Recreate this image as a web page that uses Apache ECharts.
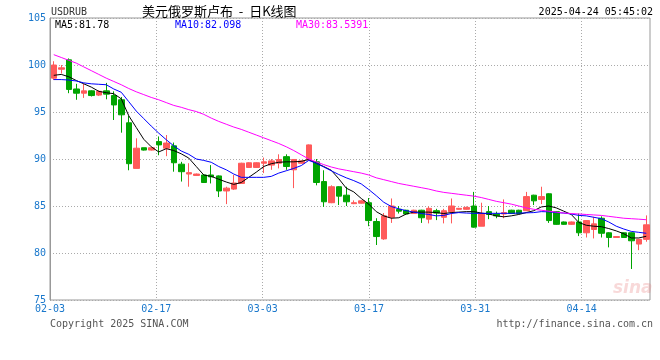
<!DOCTYPE html>
<html><head><meta charset="utf-8">
<script src="https://cdn.jsdelivr.net/npm/echarts/dist/echarts.min.js"></script>
<style>html,body{margin:0;padding:0;background:#fff}#c{width:660px;height:360px}</style>
</head><body><div id="c"></div>
<script>
const dates = ['02-03','02-04','02-05','02-06','02-07','02-08','02-09','02-10','02-11','02-12','02-13','02-14','02-15','02-16','02-17','02-18','02-19','02-20','02-21','02-22','02-23','02-24','02-25','02-26','02-27','02-28',
'03-01','03-02','03-03','03-04','03-05','03-06','03-07','03-08','03-09','03-10','03-11','03-12','03-13','03-14','03-15','03-16','03-17','03-18','03-19','03-20','03-21','03-22','03-23','03-24','03-25','03-26','03-27','03-28','03-29','03-30','03-31',
'04-01','04-02','04-03','04-04','04-05','04-06','04-07','04-08','04-09','04-10','04-11','04-12','04-13','04-14','04-15','04-16','04-17','04-18','04-19','04-20','04-21','04-22','04-23'];
const open = [98.6,99.55,100.55,97.45,97.0,97.25,96.8,97.25,96.75,96.3, 93.85,89.0,91.2,90.95,91.85,91.15,91.4,89.45,88.4,88.25, 88.3,88.3,88.2,86.6,86.8,87.4,89.1,89.1,89.55,89.35, 89.55,90.25,88.85,89.55,89.9,89.7,87.6,85.35,87.05,86.15, 85.25,85.3,85.35,83.35,81.5,83.8,84.65,84.55,84.2,84.55, 83.6,84.5,83.8,84.4,84.65,84.65,85.0,82.85,84.4,84.15, 84.15,84.55,84.55,84.5,86.15,85.7,86.3,84.4,83.3,83.05, 83.3,82.15,82.5,83.7,82.15,81.65,82.15,82.15,80.95,81.45];
const close = [100.0,99.7,97.4,97.0,97.25,96.75,97.2,96.9,95.75,94.7, 89.5,91.15,90.95,91.2,91.5,91.7,89.6,88.65,88.55,88.4, 87.5,88.1,86.6,86.9,87.45,89.55,89.6,89.6,89.7,89.8, 89.95,89.2,89.95,89.8,91.5,87.5,85.45,87.05,86.05,85.45, 85.35,85.55,83.45,81.75,83.95,85.0,84.45,84.15,84.55,83.75, 84.75,84.25,84.5,85.0,84.75,84.85,82.75,84.2,84.1,83.95, 84.3,84.2,84.2,86.0,85.55,86.0,83.45,83.05,83.05,83.3, 82.15,83.45,83.1,82.1,81.65,81.75,81.65,81.3,81.45,83.0];
const low = [98.4,99.1,97.0,96.3,96.5,96.65,96.7,96.35,94.15,92.8, 88.8,89.0,90.9,90.9,90.4,90.3,88.65,87.6,87.05,88.2, 87.45,87.4,85.95,85.2,86.7,87.35,89.05,89.05,88.5,88.85, 89.0,88.85,86.9,89.5,89.85,87.2,84.9,85.3,85.1,85.0, 85.2,85.25,82.85,80.85,81.4,83.2,84.2,84.1,84.15,83.2, 83.15,83.5,83.15,83.15,84.6,84.6,82.7,82.85,83.6,83.7, 83.7,84.15,84.15,84.45,85.1,85.2,83.2,83.0,83.0,83.0, 81.8,81.65,81.55,81.65,80.6,81.6,81.6,78.3,80.3,81.2];
const high = [100.4,100.0,100.7,98.0,98.0,97.3,97.3,98.1,97.2,96.6, 94.6,92.2,91.2,91.25,92.4,92.55,91.75,89.7,89.55,88.45, 88.35,89.35,88.25,87.05,88.3,89.6,89.65,89.65,90.15,90.0, 90.5,90.5,90.0,89.85,91.55,90.0,88.8,87.2,87.1,87.05, 85.6,85.6,85.85,83.7,84.25,85.8,85.0,84.6,84.6,84.6, 84.95,84.7,84.7,85.8,84.8,84.95,86.5,85.35,85.0,84.4, 85.7,84.6,84.6,86.5,86.2,87.05,86.35,84.45,83.35,83.35, 84.2,83.5,83.85,83.9,82.2,81.8,82.2,82.2,81.5,84.0];
const ma5 = [98.9,99.0,98.75,98.35,98.0,97.65,97.2,97.05,96.95,96.4, 94.6,93.35,92.1,91.3,90.75,91.1,90.9,90.55,90.1,89.2, 88.3,88.15,87.85,87.55,87.3,87.5,88.05,88.6,89.2,89.5, 89.65,89.7,89.7,89.75,89.95,89.55,89.2,88.8,87.9,86.9, 86.5,85.8,85.2,84.4,83.95,83.7,83.75,84.15,84.35,84.35, 84.35,84.3,84.2,84.3,84.35,84.4,84.4,84.25,84.15,83.95, 83.85,83.95,84.1,84.3,84.5,84.9,85.0,84.8,84.45,84.1, 83.25,82.95,82.85,82.8,82.6,82.35,82.05,81.6,81.6,81.78];
const ma10 = [98.45,98.45,98.4,98.3,98.1,98.0,97.95,97.9,97.45,97.1, 96.1,95.1,94.3,93.5,92.75,92.05,91.4,90.85,90.5,90.0, 89.85,89.65,89.2,88.85,88.4,88.05,88.05,88.05,88.05,88.15, 88.5,88.75,89.0,89.3,89.85,89.55,89.15,88.75,88.35,88.0, 87.7,87.35,86.75,86.1,85.4,84.95,84.7,84.5,84.35,84.2, 84.1,83.95,84.0,84.2,84.3,84.25,84.22,84.22,84.22,84.22, 84.22,84.22,84.25,84.27,84.3,84.4,84.38,84.3,84.25,84.15, 84.0,83.95,83.8,83.65,83.3,82.85,82.55,82.3,82.2,82.098];
const ma30 = [101.1,100.8,100.5,100.2,99.8,99.4,99.0,98.6,98.25,97.9, 97.5,97.15,96.85,96.55,96.3,96.0,95.7,95.5,95.25,95.05, 94.75,94.35,94.0,93.7,93.4,93.15,92.85,92.55,92.25,91.95, 91.65,91.3,90.9,90.45,90.0,89.7,89.4,89.15,88.95,88.8, 88.65,88.5,88.3,88.0,87.8,87.6,87.4,87.25,87.1,86.95, 86.8,86.6,86.45,86.35,86.25,86.15,86.05,85.9,85.7,85.5, 85.35,85.2,85.0,84.8,84.65,84.55,84.45,84.35,84.25,84.2, 84.15,84.1,84.05,84.0,83.9,83.8,83.7,83.65,83.6,83.54];
const yTicks = {min: 75, max: 105, step: 5};
const maLabels = ['MA5:81.78', 'MA10:82.098', 'MA30:83.5391'];
const titleText = '美元俄罗斯卢布  -  日K线图';
const symbolText = 'USDRUB';
const timeText = '2025-04-24 05:45:02';

const MONO = '"DejaVu Sans Mono", monospace';
const BLUE = '#1a78cc';
const kData = open.map((o, i) => [o, close[i], low[i], high[i]]);

const chart = echarts.init(document.getElementById('c'), null, {renderer: 'canvas'});
chart.setOption({
  animation: false,
  backgroundColor: '#fff',
  grid: {left: 50, right: 10, top: 18, bottom: 60, show: true, borderColor: '#999', borderWidth: 1, backgroundColor: 'transparent'},
  xAxis: [
    {type: 'category', data: dates, boundaryGap: true, show: false},
    {type: 'category', data: dates, boundaryGap: false, position: 'bottom',
     axisLine: {show: false}, axisTick: {show: false},
     axisLabel: {interval: 13, color: BLUE, fontFamily: MONO, fontSize: 10, margin: 4},
     splitLine: {show: true, interval: 13, lineStyle: {color: '#aaa', type: [1, 2], width: 1}}}
  ],
  yAxis: {type: 'value', min: yTicks.min, max: yTicks.max, interval: yTicks.step,
    axisLine: {show: true, lineStyle: {color: '#999'}}, axisTick: {show: false},
    axisLabel: {color: BLUE, fontFamily: MONO, fontSize: 10, margin: 4},
    splitLine: {show: true, lineStyle: {color: '#aaa', type: [1, 2], width: 1}}},
  series: [
    {type: 'candlestick', xAxisIndex: 0, data: kData, barWidth: 6,
     itemStyle: {color: '#ff5a5a', color0: '#00a400', borderColor: '#ff5a5a', borderColor0: '#00a400', borderWidth: 1}},
    {type: 'line', xAxisIndex: 0, data: ma5, showSymbol: false, lineStyle: {color: '#000', width: 1}, z: 3},
    {type: 'line', xAxisIndex: 0, data: ma10, showSymbol: false, lineStyle: {color: '#0000ff', width: 1}, z: 3},
    {type: 'line', xAxisIndex: 0, data: ma30, showSymbol: false, lineStyle: {color: '#ff00ff', width: 1}, z: 3}
  ],
  graphic: [
    {type: 'text', x: 51, y: 12, style: {text: symbolText, fill: '#333', font: '10px ' + MONO, verticalAlign: 'middle'}},
    {type: 'text', x: 142, y: 11, style: {text: titleText, fill: '#000', font: '13px "Noto Sans CJK SC"', verticalAlign: 'middle'}},
    {type: 'text', x: 653, y: 12, style: {text: timeText, fill: '#000', font: '10px ' + MONO, align: 'right', verticalAlign: 'middle'}},
    {type: 'text', x: 55, y: 25, style: {text: maLabels[0], fill: '#000', font: '10px ' + MONO, verticalAlign: 'middle'}},
    {type: 'text', x: 175, y: 25, style: {text: maLabels[1], fill: '#0000ff', font: '10px ' + MONO, verticalAlign: 'middle'}},
    {type: 'text', x: 296, y: 25, style: {text: maLabels[2], fill: '#ff00ff', font: '10px ' + MONO, verticalAlign: 'middle'}},
    {type: 'text', x: 50, y: 324, style: {text: 'Copyright 2025 SINA.COM', fill: '#555', font: '10px ' + MONO, verticalAlign: 'middle'}},
    {type: 'text', x: 653, y: 324, style: {text: 'http://finance.sina.com.cn', fill: '#555', font: '10px ' + MONO, align: 'right', verticalAlign: 'middle'}},
    {type: 'text', x: 613, y: 289, style: {text: 'sina', fill: 'rgba(230,120,120,0.28)', font: 'italic bold 17px "DejaVu Sans"', verticalAlign: 'middle'}}
  ]
});
</script>
</body></html>
